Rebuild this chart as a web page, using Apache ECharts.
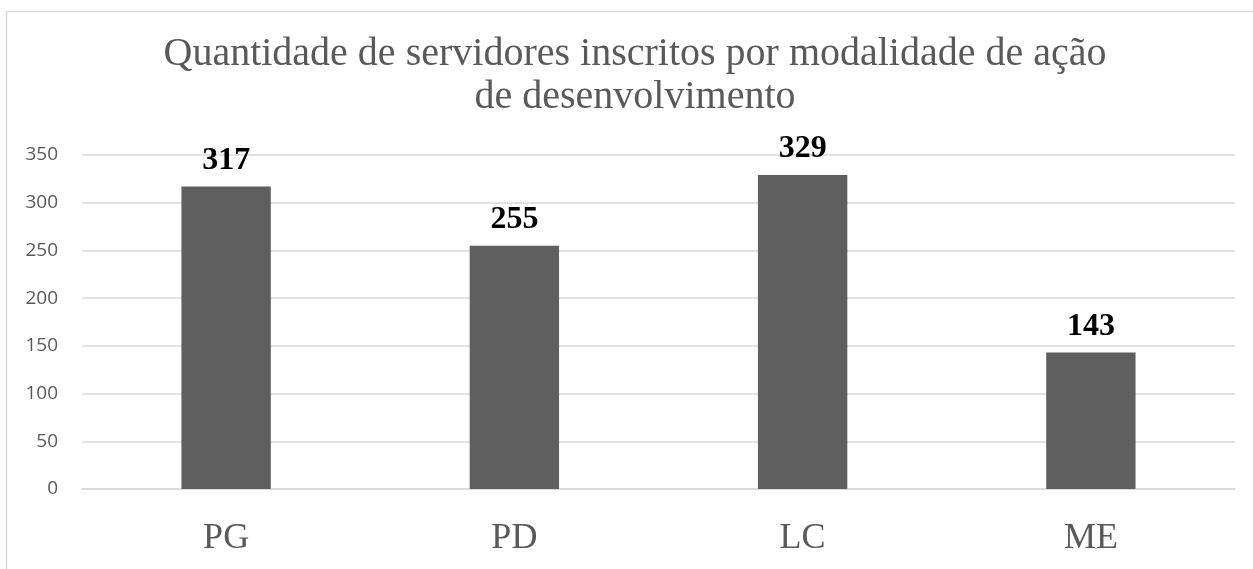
<!DOCTYPE html>
<html>
<head>
<meta charset="utf-8">
<script src="https://cdn.jsdelivr.net/npm/echarts@6/dist/echarts.min.js"></script>
<style>
  html, body { margin: 0; padding: 0; background: #ffffff; }
  #chart { width: 1253px; height: 569px; }
</style>
</head>
<body>
<div id="chart"></div>
<script>
// dados do gráfico
const titleText = 'Quantidade de servidores inscritos por modalidade de ação\nde desenvolvimento'
const categories = ['PG', 'PD', 'LC', 'ME']
const inscritos = [317, 255, 329, 143]
const yTicks = { min: 0, max: 350, interval: 50 }

const chart = echarts.init(document.getElementById('chart'))

const option = {
  backgroundColor: '#ffffff',
  animation: false,
  // moldura cinza da área do gráfico (cortada à direita e embaixo)
  graphic: [{
    type: 'rect',
    shape: { x: 6.5, y: 11.5, width: 1400, height: 700 },
    style: { fill: 'none', stroke: '#d9d9d9', lineWidth: 1.5 },
    silent: true
  }],
  title: {
    text: titleText,
    left: 630, // centro do título em x = 635
    textAlign: 'center',
    top: 28,
    padding: 5,
    textStyle: {
      fontFamily: 'Liberation Serif',
      fontWeight: 'normal',
      fontSize: 40,
      lineHeight: 43,
      color: '#595959'
    }
  },
  grid: { left: 82, right: 18, top: 155, bottom: 80 },
  xAxis: {
    type: 'category',
    data: categories,
    axisLine: { show: true, lineStyle: { color: '#d9d9d9', width: 1.5 } },
    axisTick: { show: false },
    axisLabel: {
      margin: 32,
      fontFamily: 'Liberation Serif',
      fontSize: 36,
      color: '#595959'
    }
  },
  yAxis: {
    type: 'value',
    min: yTicks.min,
    max: yTicks.max,
    interval: yTicks.interval,
    axisLine: { show: false },
    axisTick: { show: false },
    axisLabel: {
      margin: 24,
      fontFamily: 'Open Sans',
      fontSize: 19,
      color: '#595959'
    },
    splitLine: { show: true, lineStyle: { color: '#d9d9d9', width: 1.5 } }
  },
  series: [{
    type: 'bar',
    data: inscritos,
    barWidth: '31%',
    itemStyle: { color: '#5f5f5f' },
    label: {
      show: true,
      position: 'top',
      distance: 10,
      fontFamily: 'Liberation Serif',
      fontWeight: 'bold',
      fontSize: 32,
      color: '#000000'
    }
  }]
}

chart.setOption(option)
</script>
</body>
</html>
